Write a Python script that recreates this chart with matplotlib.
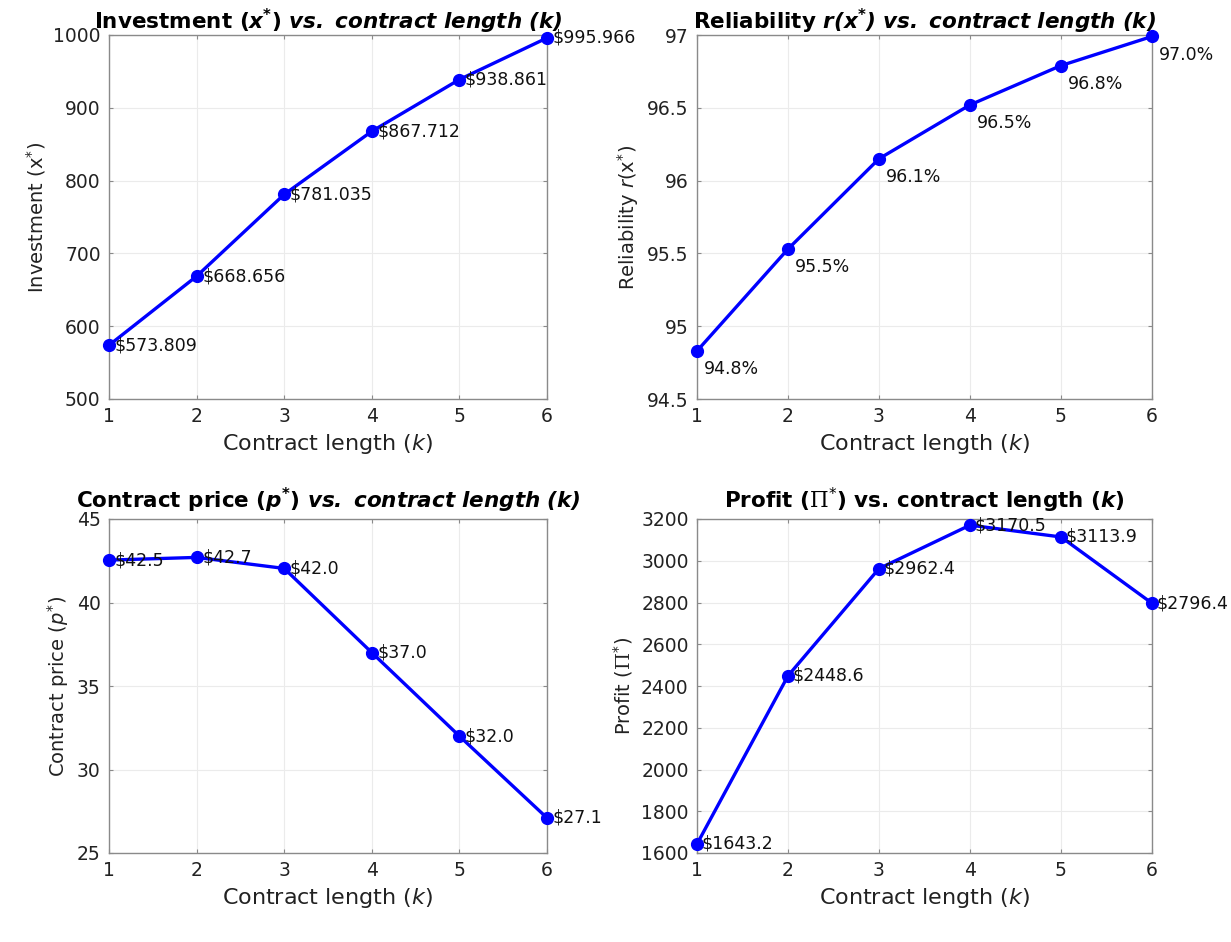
import matplotlib
matplotlib.use("Agg")
import matplotlib.pyplot as plt

plt.rcParams['font.family'] = ['DejaVu Sans']
plt.rcParams['mathtext.fontset'] = 'custom'
plt.rcParams['mathtext.rm'] = 'DejaVu Sans'
plt.rcParams['mathtext.it'] = 'DejaVu Sans:italic'
plt.rcParams['mathtext.bf'] = 'DejaVu Sans:bold'
plt.rcParams['mathtext.bfit'] = 'DejaVu Sans:italic:bold'
plt.rcParams['mathtext.sf'] = 'DejaVu Serif'

# ---- data ----
k = [1, 2, 3, 4, 5, 6]
investment = [573.809, 668.656, 781.035, 867.712, 938.861, 995.966]
reliability = [94.83, 95.53, 96.15, 96.52, 96.79, 96.99]
reliability_labels = ["94.8%", "95.5%", "96.1%", "96.5%", "96.8%", "97.0%"]
price = [42.54, 42.70, 42.04, 37.00, 32.00, 27.10]
price_labels = ["$42.5", "$42.7", "$42.0", "$37.0", "$32.0", "$27.1"]
profit = [1643.2, 2448.6, 2962.4, 3170.5, 3113.9, 2796.4]
profit_labels = ["$1643.2", "$2448.6", "$2962.4", "$3170.5", "$3113.9", "$2796.4"]
invest_labels = ["$573.809", "$668.656", "$781.035", "$867.712", "$938.861", "$995.966"]

W, H = 1231, 942
fig = plt.figure(figsize=(W / 100, H / 100), dpi=100)


def px_axes(x0, y0, x1, y1):
    return fig.add_axes([x0 / W, 1 - y1 / H, (x1 - x0) / W, (y1 - y0) / H])


def style(ax, ylim, yticks):
    ax.set_xlim(1, 6)
    ax.set_xticks(k)
    ax.set_ylim(*ylim)
    ax.set_yticks(yticks)
    ax.grid(True, color='#ebebeb', lw=0.8)
    ax.set_axisbelow(True)
    for s in ax.spines.values():
        s.set_color('#8a8a8a')
        s.set_linewidth(1.0)
    ax.tick_params(direction='in', length=3, color='#8a8a8a', labelsize=13.5,
                   labelcolor='#222222', pad=6, top=True, right=True)
    ax.set_xlabel(r'Contract length ($k$)', fontsize=16, labelpad=4, color='#222222')


def draw(ax, y, labels, offset, va='center'):
    ax.plot(k, y, '-o', color='#0000ff', lw=2.4, ms=8.5, clip_on=False, zorder=3)
    for xi, yi, lab in zip(k, y, labels):
        ax.annotate(lab.replace('$', r'\$'), (xi, yi), xytext=offset,
                    textcoords='offset points', ha='left', va=va,
                    fontsize=12.5, color='#111111', annotation_clip=False)


# Top-left: investment
ax1 = px_axes(109, 35, 547, 399)
draw(ax1, investment, invest_labels, (4, 0))
style(ax1, (500, 1000), [500, 600, 700, 800, 900, 1000])
ax1.set_ylabel(r'Investment (x$^{*}$)', fontsize=14, color='#222222')
ax1.set_title(r'Investment ($\mathbfit{x}^{\mathbf{*}}$) $\mathbfit{vs.\ contract\ length\ (k)}$',
              fontsize=15.5, fontweight='bold', pad=4)

# Top-right: reliability
ax2 = px_axes(697, 35, 1152, 399)
draw(ax2, reliability, reliability_labels, (5, -13))
style(ax2, (94.5, 97), [94.5, 95, 95.5, 96, 96.5, 97])
ax2.set_yticklabels(['94.5', '95', '95.5', '96', '96.5', '97'])
ax2.set_ylabel(r'Reliability $r$(x$^{*}$)', fontsize=14, color='#222222')
ax2.set_title(r'Reliability $\mathbfit{r(x^{*})\ vs.\ contract\ length\ (k)}$',
              fontsize=15.5, fontweight='bold', pad=4)

# Bottom-left: price
ax3 = px_axes(109, 519, 547, 853)
draw(ax3, price, price_labels, (4, 0))
style(ax3, (25, 45), [25, 30, 35, 40, 45])
ax3.set_ylabel(r'Contract price ($p^{*}$)', fontsize=14, color='#222222')
ax3.set_title(r'Contract price ($\mathbfit{p}^{\mathbf{*}}$) $\mathbfit{vs.\ contract\ length\ (k)}$',
              fontsize=15.5, fontweight='bold', pad=8)

# Bottom-right: profit
ax4 = px_axes(697, 519, 1152, 853)
draw(ax4, profit, profit_labels, (3.5, 0))
style(ax4, (1600, 3200), list(range(1600, 3201, 200)))
ax4.set_ylabel(r'Profit ($\mathsf{\Pi}^{*}$)', fontsize=14, color='#222222')
ax4.set_title(r'Profit ($\mathsf{\Pi}^{*}$) vs. contract length ($\mathbfit{k}$)',
              fontsize=15.5, fontweight='bold', pad=8)

fig.savefig('out.png', dpi=100)
